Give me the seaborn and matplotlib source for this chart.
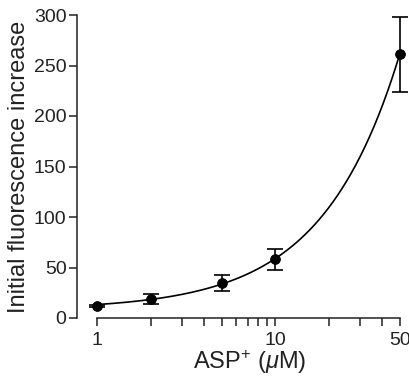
import numpy as np
import pandas as pd
import matplotlib
matplotlib.use("Agg")
import matplotlib.pyplot as plt
import seaborn as sns
from matplotlib.ticker import FixedLocator, NullFormatter, FixedFormatter

conc = [1, 2, 5, 10, 50]
signal = [12, 19, 35, 58, 261]
sem = [1, 5, 8, 10, 37]
xticks = [1, 10, 50]
xticklabels = ["1", "10", "50"]
yticks = [0, 50, 100, 150, 200, 250, 300]

sns.set_style("ticks")
plt.rcParams["font.family"] = ["Liberation Sans", "DejaVu Sans"]
plt.rcParams["mathtext.fontset"] = "custom"
plt.rcParams["mathtext.rm"] = "Liberation Sans"
plt.rcParams["mathtext.it"] = "Liberation Sans:italic"

textc = "#222222"
fig = plt.figure(figsize=(4.1, 3.8), dpi=100)
ax = fig.add_axes([77 / 410, 62 / 380, 328.6 / 410, 303 / 380])

df = pd.DataFrame({"conc": conc, "signal": signal, "sem": sem})

# fitted curve (linear fit to the data, drawn on log x axis)
coef = np.polyfit(df["conc"], df["signal"], 1)
xf = np.logspace(0, np.log10(50), 200)
fit = pd.DataFrame({"x": xf, "y": np.polyval(coef, xf)})
sns.lineplot(data=fit, x="x", y="y", ax=ax, color="black", lw=1.2)

ax.errorbar(df["conc"], df["signal"], yerr=df["sem"], fmt="none",
            ecolor="black", elinewidth=1.2, capsize=6, capthick=1.2, clip_on=False)
sns.scatterplot(data=df, x="conc", y="signal", ax=ax, color="black",
                s=50, edgecolor="black", zorder=5, clip_on=False)

ax.set_xscale("log")
ax.set_xlim(0.77, 54)
ax.set_ylim(0, 300)
ax.xaxis.set_major_locator(FixedLocator(xticks))
ax.xaxis.set_major_formatter(FixedFormatter(xticklabels))
ax.xaxis.set_minor_locator(FixedLocator([2, 3, 4, 5, 6, 7, 8, 9, 20, 30, 40]))
ax.xaxis.set_minor_formatter(NullFormatter())
ax.set_yticks(yticks)

sns.despine(ax=ax)
ax.spines["bottom"].set_bounds(1, 50)
ax.spines["left"].set_bounds(0, 300)
for s in ["bottom", "left"]:
    ax.spines[s].set_linewidth(1.1)
    ax.spines[s].set_color(textc)
ax.tick_params(axis="both", which="major", length=6, width=1.1, color=textc,
               labelsize=14, labelcolor=textc, pad=1.5)
ax.tick_params(axis="x", which="major", pad=4)
ax.tick_params(axis="x", which="minor", length=6, width=1.1, color=textc)

ax.set_xlabel(r"ASP$^{+}$ ($\mathit{\mu}$M)", fontsize=17, color=textc)
ax.xaxis.set_label_coords(0.525, -0.1)
ax.set_ylabel("Initial fluorescence increase", fontsize=17, labelpad=3, color=textc)

fig.savefig("out.png", dpi=100)
